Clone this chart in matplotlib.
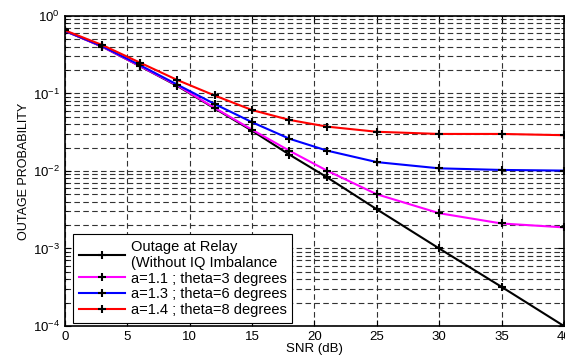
import matplotlib
matplotlib.use('Agg')
import matplotlib.pyplot as plt
from matplotlib.ticker import LogLocator, NullFormatter

plt.rcParams['font.family'] = ['Liberation Sans', 'DejaVu Sans']

# SNR points (dB)
snr = [0, 3, 6, 9, 12, 15, 18, 21, 25, 30, 35, 40]

# Outage probability
p_relay = [0.64, 0.40, 0.225, 0.125, 0.064, 0.033, 0.0162, 0.0083, 0.0032, 0.001, 0.00032, 0.0001]
p_a11 = [0.64, 0.40, 0.226, 0.127, 0.065, 0.034, 0.0182, 0.0101, 0.0050, 0.00285, 0.0021, 0.00187]
p_a13 = [0.64, 0.405, 0.232, 0.130, 0.073, 0.0425, 0.026, 0.0183, 0.013, 0.0108, 0.0103, 0.0101]
p_a14 = [0.65, 0.42, 0.25, 0.149, 0.094, 0.061, 0.0455, 0.0373, 0.032, 0.030, 0.030, 0.0289]

labels = ['Outage at Relay\n(Without IQ Imbalance',
          'a=1.1 ; theta=3 degrees',
          'a=1.3 ; theta=6 degrees',
          'a=1.4 ; theta=8 degrees']
colors = ['black', '#ff00ff', '#0000ff', '#ff0000']

fig = plt.figure(figsize=(5.65, 3.61), dpi=100)
ax = fig.add_axes([0.115, 0.097, 0.883, 0.859])

for ys, lab, c in zip([p_relay, p_a11, p_a13, p_a14], labels, colors):
    ax.semilogy(snr, ys, '-', color=c, lw=1.5, marker='+', markersize=6,
                markeredgewidth=1.5, markeredgecolor='black', label=lab)

ax.set_xlim(0, 40)
ax.set_ylim(1e-4, 1)
ax.set_xticks(range(0, 41, 5))
ax.yaxis.set_major_locator(LogLocator(base=10, numticks=10))
ax.yaxis.set_minor_locator(LogLocator(base=10, subs=range(2, 10), numticks=10))
ax.yaxis.set_minor_formatter(NullFormatter())

ax.grid(True, which='major', axis='both', color='0.2', ls=(0, (5, 3)), lw=0.8)
ax.grid(True, which='minor', axis='y', color='0.2', ls=(0, (5, 3)), lw=0.8)
ax.tick_params(direction='in', which='both', top=True, right=True, labelsize=9.5, length=4)
ax.tick_params(which='minor', length=2)
for s in ax.spines.values():
    s.set_linewidth(1.2)

ax.set_xlabel('SNR (dB)', fontsize=9.5, labelpad=0)
ax.set_ylabel('OUTAGE PROBABILITY', fontsize=9, labelpad=2)

leg = ax.legend(loc='lower left', bbox_to_anchor=(0.016, 0.01), fontsize=10.5,
                fancybox=False, framealpha=1, edgecolor='black', borderaxespad=0,
                handlelength=3.15, handletextpad=0.4, labelspacing=0.12,
                borderpad=0.4)
leg.get_frame().set_linewidth(0.8)

plt.savefig('out.png', dpi=100)
